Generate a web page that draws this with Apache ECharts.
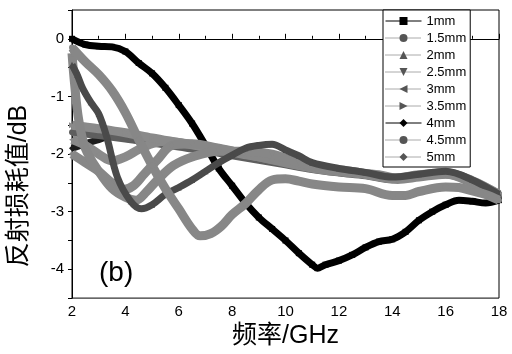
<!DOCTYPE html>
<html>
<head>
<meta charset="utf-8">
<script src="https://cdn.jsdelivr.net/npm/echarts@6/dist/echarts.min.js"></script>
<style>html,body{margin:0;padding:0;background:#fff}#c{width:512px;height:354px}</style>
</head>
<body>
<div id="c"></div>
<script>
// ---- data ----
const names = ['1mm','1.5mm','2mm','2.5mm','3mm','3.5mm','4mm','4.5mm','5mm'];
const xTicks = [2,4,6,8,10,12,14,16,18];
const yTicks = [0,-1,-2,-3,-4];

const x1 = [2,2.5,3,3.5,4,4.5,5,5.5,6,6.5,7,7.5,8,8.5,9,9.5,10,10.5,11,11.2,11.5,12,12.5,13,13.5,14,14.5,15,15.5,16,16.5,17,17.5,18];
const y1 = [0,-0.1,-0.13,-0.14,-0.22,-0.42,-0.6,-0.85,-1.15,-1.47,-1.85,-2.25,-2.55,-2.85,-3.1,-3.3,-3.5,-3.72,-3.92,-3.98,-3.92,-3.85,-3.75,-3.62,-3.52,-3.48,-3.35,-3.15,-3.0,-2.88,-2.8,-2.82,-2.85,-2.8];

const x15 = [2,2.5,3,3.5,4,4.5,5,5.5,6,6.5,6.8,7.2,7.6,8,8.5,9,9.5,10,10.5,11,12,13,14,14.5,15,16,16.5,17,17.5,18];
const y15 = [-0.15,-0.4,-0.62,-0.9,-1.28,-1.75,-2.2,-2.6,-2.95,-3.3,-3.42,-3.38,-3.25,-3.05,-2.86,-2.62,-2.45,-2.43,-2.47,-2.52,-2.57,-2.6,-2.72,-2.72,-2.65,-2.57,-2.58,-2.64,-2.7,-2.8];

const x2 = [2,2.2,2.4,2.7,3,3.3,3.7,4.2,4.6,5,5.5,6,6.5,7,7.5,8,8.5,9,9.5,10,10.5,11,12,13,14,15,16,17,18];
const y2 = [-0.45,-0.63,-0.86,-1.1,-1.3,-1.7,-2.4,-2.82,-2.95,-2.88,-2.7,-2.58,-2.45,-2.3,-2.15,-2.02,-1.9,-1.85,-1.83,-1.93,-2.03,-2.15,-2.25,-2.32,-2.4,-2.35,-2.3,-2.45,-2.7];

const x25 = [2,2.1,2.25,2.5,3,3.5,4,4.4,4.8,5.2,5.8,6.5,7.5,8.5,9.5,10.5,11.5,12.5,13.5,14.2,15,16,17,18];
const y25 = [-0.25,-0.8,-1.4,-1.9,-2.3,-2.6,-2.75,-2.8,-2.65,-2.45,-2.2,-2.05,-1.95,-1.95,-2.0,-2.15,-2.25,-2.3,-2.38,-2.44,-2.4,-2.35,-2.5,-2.72];

const x3 = [2,2.5,3,3.5,4,4.5,5,5.5,6,7,8,9,10,11,12,13,14,15,16,17,18];
const y3 = [-1.75,-1.85,-2.0,-2.12,-2.05,-1.92,-1.82,-1.78,-1.8,-1.87,-1.95,-2.03,-2.13,-2.23,-2.3,-2.35,-2.42,-2.37,-2.33,-2.47,-2.7];

const x35 = [2,3,4,5,6,7,8,9,10,11,12,13,14,15,16,17,18];
const y35 = [-1.5,-1.56,-1.63,-1.72,-1.8,-1.88,-1.97,-2.05,-2.13,-2.22,-2.3,-2.35,-2.42,-2.36,-2.33,-2.46,-2.7];

const x4 = [2,2.5,3,3.5,4,5,6,7,8,9,10,11,12,13,14,15,16,17,18];
const y4 = [-1.9,-1.82,-1.75,-1.68,-1.67,-1.74,-1.82,-1.9,-1.98,-2.07,-2.15,-2.24,-2.3,-2.35,-2.43,-2.37,-2.34,-2.47,-2.72];

const x45 = [2,3,4,5,6,7,8,9,10,11,12,13,14,15,16,17,18];
const y45 = [-1.62,-1.67,-1.73,-1.8,-1.87,-1.94,-2.02,-2.1,-2.18,-2.26,-2.32,-2.37,-2.44,-2.39,-2.35,-2.48,-2.73];

const x5 = [2,2.5,3,3.5,3.9,4.3,4.7,5.2,5.75,6.5,7.5,8.5,9.5,10.5,11.5,12.5,13.5,14.2,15,16,17,18];
const y5 = [-2.0,-2.15,-2.3,-2.5,-2.62,-2.55,-2.35,-2.1,-1.85,-1.82,-1.9,-2.0,-2.1,-2.2,-2.28,-2.32,-2.36,-2.42,-2.38,-2.34,-2.48,-2.72];

const xs = [x1,x15,x2,x25,x3,x35,x4,x45,x5];
const ys = [y1,y15,y2,y25,y3,y35,y4,y45,y5];

// ---- styling ----
const colors  = ['#000000','#878787','#4a4a4a','#878787','#8a8a8a','#8a8a8a','#1e1e1e','#5e5e5e','#878787'];
const symbols = ['rect','circle','triangle','path://M0,0 L10,0 L5,10 Z','path://M0,5 L10,0 L10,10 Z','path://M0,0 L10,5 L0,10 Z','diamond','circle','path://M5,0 L10,5 L5,10 L0,5 Z'];
const widths  = [7,9,7,9,9,9,7,8,9];
const drawOrder = [0,6,7,4,5,8,3,2,1];

const pair = (xa, ya) => xa.map((v, i) => [v, ya[i]]);
const FONT = 'Liberation Sans, Arial, sans-serif';
const CJK = 'Liberation Sans, Noto Sans CJK SC, sans-serif';

const series = drawOrder.map(i => ({
  name: names[i],
  type: 'line',
  data: pair(xs[i], ys[i]),
  smooth: 0.35,
  symbol: symbols[i],
  symbolSize: 6,
  showSymbol: true,
  z: 2 + drawOrder.indexOf(i),
  itemStyle: { color: colors[i] },
  lineStyle: { color: colors[i], width: widths[i] },
  emphasis: { disabled: true },
  animation: false
}));

const chart = echarts.init(document.getElementById('c'), null, { renderer: 'canvas' });
chart.setOption({
  backgroundColor: '#fff',
  animation: false,
  grid: { left: 72, right: 13, top: 10, bottom: 51, show: true, borderColor: '#000', borderWidth: 1 },
  xAxis: {
    type: 'value', min: 2, max: 18, interval: 2,
    name: '频率/GHz', nameLocation: 'middle', nameGap: 22,
    nameTextStyle: { fontFamily: CJK, fontSize: 25, color: '#000', verticalAlign: 'top' },
    axisLine: { lineStyle: { color: '#000', width: 1 } },
    axisTick: { inside: true, length: 5, lineStyle: { color: '#000' } },
    minorTick: { show: true, splitNumber: 2, length: 3, lineStyle: { color: '#000' } },
    splitLine: { show: false },
    axisLabel: { fontFamily: FONT, fontSize: 15, color: '#000', margin: 6,
      formatter: v => xTicks.includes(v) ? String(v) : '' }
  },
  yAxis: {
    type: 'value', min: -4.5, max: 0.5, interval: 0.5,
    axisLine: { lineStyle: { color: '#000', width: 1 } },
    axisTick: { inside: false, length: 4, lineStyle: { color: '#000' } },
    splitLine: { show: false },
    axisLabel: { fontFamily: FONT, fontSize: 15, color: '#000', margin: 8,
      formatter: v => yTicks.includes(v) ? String(v) : '' }
  },
  legend: {
    orient: 'vertical', left: 383, top: 10,
    padding: [4, 4, 3, 2],
    itemWidth: 36, itemHeight: 10, itemGap: 3,
    backgroundColor: '#fff', borderColor: '#000', borderWidth: 1,
    textStyle: { fontFamily: FONT, fontSize: 13, color: '#000', lineHeight: 14 },
    data: names.map((n, i) => ({
      name: n,
      lineStyle: { width: 1, color: i === 0 || i === 6 ? '#000' : '#555', type: i === 0 || i === 6 ? 'solid' : 'dotted' },
      itemStyle: { color: i === 0 || i === 6 ? '#000' : '#555' }
    }))
  },
  graphic: [
    { type: 'text', x: 19, y: 186, rotation: Math.PI / 2,
      style: { text: '反射损耗值/dB', fontFamily: CJK, fontSize: 25, fill: '#000', align: 'center', verticalAlign: 'middle' } },
    { type: 'text', left: 99, top: 259,
      style: { text: '(b)', fontFamily: FONT, fontSize: 28, fill: '#000' } }
  ],
  series
});
</script>
</body>
</html>
